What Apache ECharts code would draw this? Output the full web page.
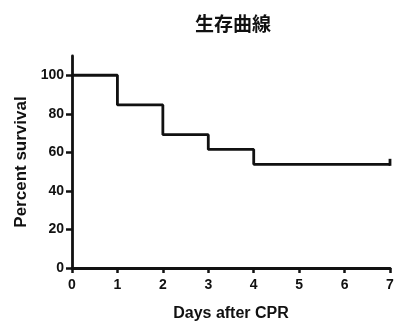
<!DOCTYPE html>
<html>
<head>
<meta charset="utf-8">
<script src="https://cdn.jsdelivr.net/npm/echarts@6/dist/echarts.min.js"></script>
<style>
html,body{margin:0;padding:0;background:#fff;}
#chart{width:395px;height:322px;}
</style>
</head>
<body>
<div id="chart"></div>
<script>
// survival data (Kaplan-Meier steps)
var days = [0, 1, 2, 3, 4, 7];
var survival = [100, 84.6, 69.2, 61.5, 53.8, 53.8];
var xTicks = [0, 1, 2, 3, 4, 5, 6, 7];
var yTicks = [0, 20, 40, 60, 80, 100];

var pts = days.map(function(d, i){
    var p = {value: [d, survival[i]]};
    if (i == days.length - 1) {
        p.symbol = 'rect';
        p.symbolSize = [2.8, 7];
        p.symbolOffset = [0, -2];
    }
    return p;
});

var myChart = echarts.init(document.getElementById('chart'));
var font = 'Liberation Sans, Arial, sans-serif';

option = {
    animation: false,
    title: {
        text: '生存曲線',
        left: 228,
        top: 9,
        textAlign: 'center',
        textStyle: {fontFamily: 'Noto Sans CJK JP', fontWeight: 'bold', fontSize: 19, color: '#111'}
    },
    grid: {left: 72, right: 5, top: 56, bottom: 54, outerBoundsMode: 'none', containLabel: false},
    xAxis: {
        type: 'value',
        min: 0, max: 7, interval: 1,
        name: 'Days after CPR',
        nameLocation: 'middle',
        nameGap: 38,
        nameTextStyle: {fontFamily: font, fontWeight: 'bold', fontSize: 16, color: '#111'},
        axisLine: {show: true, onZero: false, lineStyle: {color: '#111', width: 2.8}},
        axisTick: {show: true, length: 5, lineStyle: {color: '#111', width: 2.5}},
        axisLabel: {fontFamily: font, fontWeight: 'bold', fontSize: 14, color: '#111', margin: 10,
            customValues: xTicks},
        splitLine: {show: false}
    },
    yAxis: {
        type: 'value',
        min: 0, max: 110,
        name: 'Percent survival',
        nameLocation: 'middle',
        nameGap: 40,
        nameTextStyle: {fontFamily: font, fontWeight: 'bold', fontSize: 17, color: '#111'},
        axisLine: {show: true, lineStyle: {color: '#111', width: 2.8}},
        axisTick: {show: true, length: 6, lineStyle: {color: '#111', width: 2.5}, customValues: yTicks},
        axisLabel: {fontFamily: font, fontWeight: 'bold', fontSize: 14, color: '#111', margin: 8,
            customValues: yTicks},
        splitLine: {show: false}
    },
    series: [{
        type: 'line',
        step: 'end',
        data: pts,
        symbol: 'none',
        showSymbol: true,
        lineStyle: {color: '#111', width: 2.8},
        itemStyle: {color: '#111'}
    }]
};

myChart.setOption(option);
</script>
</body>
</html>
